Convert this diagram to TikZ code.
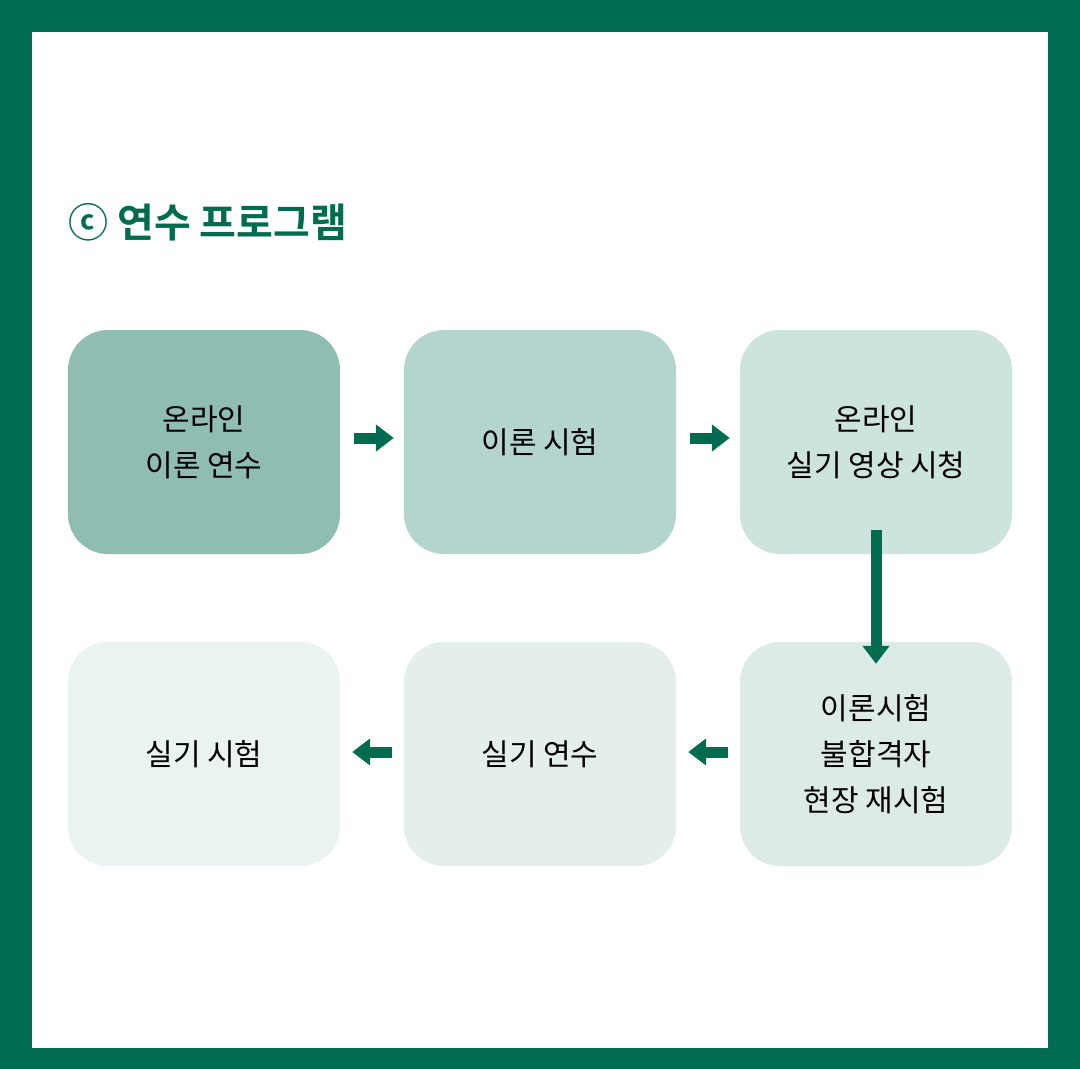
\documentclass[tikz,border=0pt]{standalone}
\usepackage{fontspec}
\newfontfamily\kr{Noto Sans CJK KR}
\newfontfamily\krb{Noto Sans CJK KR Bold}
\usetikzlibrary{arrows.meta}
\definecolor{dg}{HTML}{006B4F}
\definecolor{c1}{HTML}{8FBDB1}
\definecolor{c2}{HTML}{B3D5CE}
\definecolor{c3}{HTML}{CDE3DE}
\definecolor{c4}{HTML}{DDEBE8}
\definecolor{c5}{HTML}{E4EFEC}
\definecolor{c6}{HTML}{EAF3F1}
\begin{document}
\begin{tikzpicture}[x=1pt,y=-1pt,
 box/.style={rounded corners=40pt,minimum width=272pt,minimum height=224pt,align=center,font=\kr\fontsize{30}{46}\selectfont,inner sep=0pt},
 arr/.style={dg,line width=11pt,-{Triangle[length=18pt,width=26pt]}}]
\fill[dg] (0,0) rectangle (1080,1069);
\fill[white] (32,32) rectangle (1048,1048);
\node[anchor=west,font=\krb\fontsize{40}{40}\selectfont,text=dg,inner sep=0pt] (t) at (68,222) {ⓒ 연수 프로그램};
\node[box,fill=c1] (a) at (204,442) {온라인\\이론 연수};
\node[box,fill=c2] (b) at (540,442) {이론 시험};
\node[box,fill=c3] (c) at (876,442) {온라인\\실기 영상 시청};
\node[box,fill=c4] (d) at (876,754) {이론시험\\불합격자\\현장 재시험};
\node[box,fill=c5] (e) at (540,754) {실기 연수};
\node[box,fill=c6] (f) at (204,754) {실기 시험};
\draw[arr] ([xshift=14pt,yshift=4pt]a.east) -- ([xshift=-10pt,yshift=4pt]b.west);
\draw[arr] ([xshift=14pt,yshift=4pt]b.east) -- ([xshift=-10pt,yshift=4pt]c.west);
\draw[arr] ([yshift=24pt]c.south) -- ([yshift=-22pt]d.north);
\draw[arr] ([xshift=-12pt,yshift=2pt]d.west) -- ([xshift=12pt,yshift=2pt]e.east);
\draw[arr] ([xshift=-12pt,yshift=2pt]e.west) -- ([xshift=12pt,yshift=2pt]f.east);
\end{tikzpicture}
\end{document}
